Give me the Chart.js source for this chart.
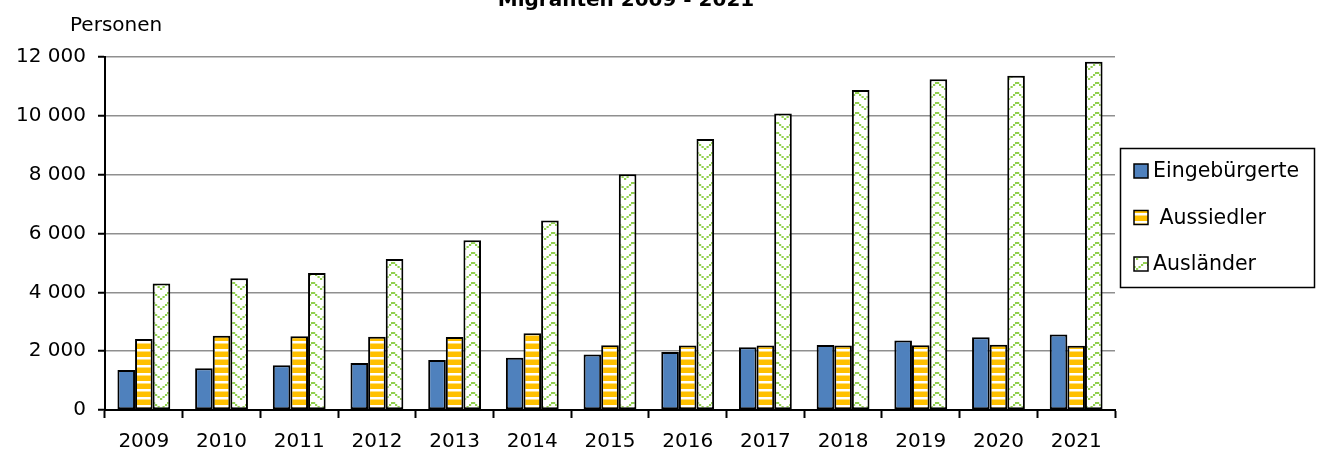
<!DOCTYPE html>
<html>
<head>
<meta charset="utf-8">
<script src="https://cdn.jsdelivr.net/npm/chart.js@4.4.1/dist/chart.umd.min.js"></script>
<style>
  html, body { margin: 0; padding: 0; background: #fff; }
  #wrap { width: 1318px; height: 454px; }
</style>
</head>
<body>
<div id="wrap"><canvas id="chart" width="1318" height="454"></canvas></div>
<script>
const years = ['2009', '2010', '2011', '2012', '2013', '2014', '2015', '2016', '2017', '2018', '2019', '2020', '2021'];
const eingebuergerte = [1360, 1420, 1520, 1600, 1700, 1780, 1890, 1970, 2130, 2210, 2360, 2470, 2570];
const aussiedler = [2410, 2520, 2510, 2490, 2480, 2610, 2200, 2190, 2190, 2190, 2200, 2220, 2180];
const auslaender = [4300, 4480, 4660, 5130, 5770, 6440, 8010, 9210, 10080, 10880, 11240, 11360, 11840];
const seriesLabels = ['Eingebürgerte', ' Aussiedler', 'Ausländer'];
const yTicks = [0, 2000, 4000, 6000, 8000, 10000, 12000];

const FONT = '"DejaVu Sans", sans-serif';

// yellow with white horizontal stripes
function stripePattern() {
  const c = document.createElement('canvas');
  c.width = 8; c.height = 8;
  const g = c.getContext('2d');
  g.fillStyle = '#FFC000';
  g.fillRect(0, 0, 8, 8);
  g.fillStyle = '#fff';
  g.fillRect(0, 5, 8, 2.5);
  return g.createPattern(c, 'repeat');
}

// white with a dotted green chevron
function zigzagPattern() {
  const c = document.createElement('canvas');
  c.width = 16; c.height = 10;
  const g = c.getContext('2d');
  g.fillStyle = '#fff';
  g.fillRect(0, 0, 16, 10);
  g.fillStyle = '#92D050';
  const dots = [[0, 8], [2.5, 6], [5, 4], [7, 2], [9, 2], [11, 4], [13.5, 6]];
  dots.forEach(d => g.fillRect(d[0], d[1], 2.2, 2));
  return g.createPattern(c, 'repeat');
}

const ctx = document.getElementById('chart').getContext('2d');

const extras = {
  id: 'extras',
  afterDraw(chart) {
    const c = chart.ctx;
    c.save();
    c.fillStyle = '#000';
    c.textBaseline = 'alphabetic';
    c.textAlign = 'center';
    c.font = 'bold 20px ' + FONT;
    c.fillText('Migranten 2009 - 2021', 626, 6);
    c.textAlign = 'left';
    c.font = '20px ' + FONT;
    c.fillText('Personen', 70, 31);

    // legend box
    c.strokeStyle = '#000';
    c.lineWidth = 1.5;
    c.strokeRect(1120.5, 148.5, 194, 139);
    chart.data.datasets.forEach((ds, i) => {
      const y = 171 + i * 46.5;
      c.fillStyle = ds.backgroundColor;
      c.fillRect(1134, y - 7, 14, 14);
      c.lineWidth = 1.5;
      c.strokeRect(1134, y - 7, 14, 14);
      c.fillStyle = '#000';
      c.textBaseline = 'middle';
      c.font = '20.5px ' + FONT;
      c.fillText(ds.label, 1153, y + 1);
    });
    c.restore();
  }
};

new Chart(ctx, {
  type: 'bar',
  data: {
    labels: years,
    datasets: [
      { label: seriesLabels[0], data: eingebuergerte, backgroundColor: '#4F81BD' },
      { label: seriesLabels[1], data: aussiedler, backgroundColor: stripePattern() },
      { label: seriesLabels[2], data: auslaender, backgroundColor: zigzagPattern() }
    ]
  },
  options: {
    responsive: false,
    animation: false,
    layout: { padding: { top: 57, right: 203, left: 0, bottom: 0 } },
    datasets: {
      bar: {
        borderColor: '#000',
        borderWidth: 2,
        borderSkipped: false,
        categoryPercentage: 0.68,
        barPercentage: 1.0
      }
    },
    plugins: {
      legend: { display: false },
      title: { display: false },
      tooltip: { enabled: false }
    },
    scales: {
      x: {
        grid: {
          offset: true,
          drawOnChartArea: false,
          drawTicks: true,
          tickLength: 8,
          tickColor: '#000',
          tickWidth: 2
        },
        border: { display: true, color: '#000', width: 2 },
        ticks: { color: '#000', font: { family: FONT, size: 20 }, padding: 12 },
        afterFit(scale) { scale.height = 44; }
      },
      y: {
        min: 0,
        max: 12000,
        afterBuildTicks(scale) { scale.ticks = yTicks.map(v => ({ value: v })); },
        grid: {
          color: '#8f8f8f',
          lineWidth: 1.5,
          tickLength: 7,
          tickColor: '#000',
          tickWidth: 2
        },
        border: { display: true, color: '#000', width: 2 },
        ticks: {
          color: '#000',
          font: { family: FONT, size: 20 },
          padding: 12,
          callback: v => v.toLocaleString('en-US').replace(/,/g, ' ')
        },
        afterFit(scale) { scale.width = 105; }
      }
    }
  },
  plugins: [extras]
});
</script>
</body>
</html>
